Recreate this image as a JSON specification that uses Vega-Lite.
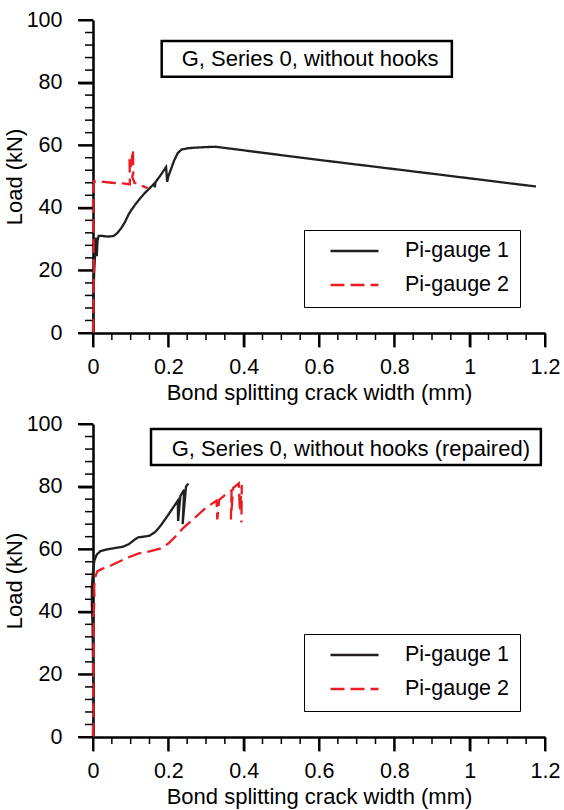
{
  "$schema": "https://vega.github.io/schema/vega-lite/v6.json",
  "padding": {"left": 3, "top": 9, "right": 5, "bottom": 3},
  "spacing": 9,
  "config": {
    "view": {"stroke": null},
    "font": "Liberation Sans",
    "axis": {
      "grid": false,
      "domainColor": "black",
      "domainWidth": 2.5,
      "tickColor": "black",
      "tickWidth": 2,
      "labelFont": "Liberation Sans",
      "labelFontSize": 21.5,
      "labelColor": "black",
      "labelOverlap": false,
      "labelFlush": false,
      "titleFont": "Liberation Sans",
      "titleFontSize": 22,
      "titleFontWeight": "normal",
      "titleColor": "black"
    }
  },
  "resolve": {"legend": {"color": "independent", "strokeDash": "independent"}},
  "datasets": {
    "xmajor": [{"v": 0}, {"v": 0.2}, {"v": 0.4}, {"v": 0.6}, {"v": 0.8}, {"v": 1}, {"v": 1.2}],
    "xminor": [{"v": 0.05}, {"v": 0.1}, {"v": 0.15}, {"v": 0.25}, {"v": 0.3}, {"v": 0.35}, {"v": 0.45}, {"v": 0.5}, {"v": 0.55}, {"v": 0.65}, {"v": 0.7}, {"v": 0.75}, {"v": 0.85}, {"v": 0.9}, {"v": 0.95}, {"v": 1.05}, {"v": 1.1}, {"v": 1.15}],
    "ymajor": [{"v": 0}, {"v": 20}, {"v": 40}, {"v": 60}, {"v": 80}, {"v": 100}],
    "yminor": [{"v": 4}, {"v": 8}, {"v": 12}, {"v": 16}, {"v": 24}, {"v": 28}, {"v": 32}, {"v": 36}, {"v": 44}, {"v": 48}, {"v": 52}, {"v": 56}, {"v": 64}, {"v": 68}, {"v": 72}, {"v": 76}, {"v": 84}, {"v": 88}, {"v": 92}, {"v": 96}],
    "curves": [
      {"panel": "top", "series": "Pi-gauge 1", "i": 1, "x": 0, "y": 0},
      {"panel": "top", "series": "Pi-gauge 1", "i": 2, "x": 0.001, "y": 8},
      {"panel": "top", "series": "Pi-gauge 1", "i": 3, "x": 0.002, "y": 15},
      {"panel": "top", "series": "Pi-gauge 1", "i": 4, "x": 0.003, "y": 19},
      {"panel": "top", "series": "Pi-gauge 1", "i": 5, "x": 0.005, "y": 24},
      {"panel": "top", "series": "Pi-gauge 1", "i": 6, "x": 0.007, "y": 28},
      {"panel": "top", "series": "Pi-gauge 1", "i": 7, "x": 0.008, "y": 30.5},
      {"panel": "top", "series": "Pi-gauge 1", "i": 8, "x": 0.01, "y": 24.5},
      {"panel": "top", "series": "Pi-gauge 1", "i": 9, "x": 0.012, "y": 29.5},
      {"panel": "top", "series": "Pi-gauge 1", "i": 10, "x": 0.015, "y": 31},
      {"panel": "top", "series": "Pi-gauge 1", "i": 11, "x": 0.025, "y": 31},
      {"panel": "top", "series": "Pi-gauge 1", "i": 12, "x": 0.04, "y": 30.8},
      {"panel": "top", "series": "Pi-gauge 1", "i": 13, "x": 0.055, "y": 31},
      {"panel": "top", "series": "Pi-gauge 1", "i": 14, "x": 0.065, "y": 32},
      {"panel": "top", "series": "Pi-gauge 1", "i": 15, "x": 0.075, "y": 33.5},
      {"panel": "top", "series": "Pi-gauge 1", "i": 16, "x": 0.085, "y": 35.5},
      {"panel": "top", "series": "Pi-gauge 1", "i": 17, "x": 0.095, "y": 38},
      {"panel": "top", "series": "Pi-gauge 1", "i": 18, "x": 0.103, "y": 39.5},
      {"panel": "top", "series": "Pi-gauge 1", "i": 19, "x": 0.115, "y": 41.5},
      {"panel": "top", "series": "Pi-gauge 1", "i": 20, "x": 0.125, "y": 43},
      {"panel": "top", "series": "Pi-gauge 1", "i": 21, "x": 0.14, "y": 45},
      {"panel": "top", "series": "Pi-gauge 1", "i": 22, "x": 0.155, "y": 46.8},
      {"panel": "top", "series": "Pi-gauge 1", "i": 23, "x": 0.163, "y": 47.8},
      {"panel": "top", "series": "Pi-gauge 1", "i": 24, "x": 0.164, "y": 46.5},
      {"panel": "top", "series": "Pi-gauge 1", "i": 25, "x": 0.166, "y": 48.2},
      {"panel": "top", "series": "Pi-gauge 1", "i": 26, "x": 0.18, "y": 50.5},
      {"panel": "top", "series": "Pi-gauge 1", "i": 27, "x": 0.194, "y": 53},
      {"panel": "top", "series": "Pi-gauge 1", "i": 28, "x": 0.197, "y": 48.3},
      {"panel": "top", "series": "Pi-gauge 1", "i": 29, "x": 0.2, "y": 50},
      {"panel": "top", "series": "Pi-gauge 1", "i": 30, "x": 0.206, "y": 52},
      {"panel": "top", "series": "Pi-gauge 1", "i": 31, "x": 0.215, "y": 55},
      {"panel": "top", "series": "Pi-gauge 1", "i": 32, "x": 0.225, "y": 57.5},
      {"panel": "top", "series": "Pi-gauge 1", "i": 33, "x": 0.235, "y": 58.6},
      {"panel": "top", "series": "Pi-gauge 1", "i": 34, "x": 0.25, "y": 59},
      {"panel": "top", "series": "Pi-gauge 1", "i": 35, "x": 0.27, "y": 59.2},
      {"panel": "top", "series": "Pi-gauge 1", "i": 36, "x": 0.3, "y": 59.4},
      {"panel": "top", "series": "Pi-gauge 1", "i": 37, "x": 0.325, "y": 59.5},
      {"panel": "top", "series": "Pi-gauge 1", "i": 38, "x": 0.6, "y": 55.3},
      {"panel": "top", "series": "Pi-gauge 1", "i": 39, "x": 0.9, "y": 50.9},
      {"panel": "top", "series": "Pi-gauge 1", "i": 40, "x": 1.176, "y": 46.8},
      {"panel": "top", "series": "Pi-gauge 2", "i": 1, "x": 0, "y": 0},
      {"panel": "top", "series": "Pi-gauge 2", "i": 2, "x": 0.001, "y": 10},
      {"panel": "top", "series": "Pi-gauge 2", "i": 3, "x": 0.002, "y": 20},
      {"panel": "top", "series": "Pi-gauge 2", "i": 4, "x": 0.001, "y": 30},
      {"panel": "top", "series": "Pi-gauge 2", "i": 5, "x": 0, "y": 40},
      {"panel": "top", "series": "Pi-gauge 2", "i": 6, "x": 0.001, "y": 48.4},
      {"panel": "top", "series": "Pi-gauge 2", "i": 7, "x": 0.02, "y": 48.4},
      {"panel": "top", "series": "Pi-gauge 2", "i": 8, "x": 0.05, "y": 48},
      {"panel": "top", "series": "Pi-gauge 2", "i": 9, "x": 0.08, "y": 47.8},
      {"panel": "top", "series": "Pi-gauge 2", "i": 10, "x": 0.098, "y": 47.5},
      {"panel": "top", "series": "Pi-gauge 2", "i": 11, "x": 0.097, "y": 55.5},
      {"panel": "top", "series": "Pi-gauge 2", "i": 12, "x": 0.1, "y": 53},
      {"panel": "top", "series": "Pi-gauge 2", "i": 13, "x": 0.106, "y": 58.5},
      {"panel": "top", "series": "Pi-gauge 2", "i": 14, "x": 0.107, "y": 51},
      {"panel": "top", "series": "Pi-gauge 2", "i": 15, "x": 0.104, "y": 50},
      {"panel": "top", "series": "Pi-gauge 2", "i": 16, "x": 0.11, "y": 48},
      {"panel": "top", "series": "Pi-gauge 2", "i": 17, "x": 0.12, "y": 47.5},
      {"panel": "top", "series": "Pi-gauge 2", "i": 18, "x": 0.13, "y": 47},
      {"panel": "top", "series": "Pi-gauge 2", "i": 19, "x": 0.145, "y": 46.3},
      {"panel": "bottom", "series": "Pi-gauge 1", "i": 1, "x": 0, "y": 0},
      {"panel": "bottom", "series": "Pi-gauge 1", "i": 2, "x": 0.001, "y": 12},
      {"panel": "bottom", "series": "Pi-gauge 1", "i": 3, "x": 0, "y": 25},
      {"panel": "bottom", "series": "Pi-gauge 1", "i": 4, "x": -0.001, "y": 35},
      {"panel": "bottom", "series": "Pi-gauge 1", "i": 5, "x": -0.003, "y": 42},
      {"panel": "bottom", "series": "Pi-gauge 1", "i": 6, "x": -0.003, "y": 48},
      {"panel": "bottom", "series": "Pi-gauge 1", "i": 7, "x": 0, "y": 53},
      {"panel": "bottom", "series": "Pi-gauge 1", "i": 8, "x": 0.004, "y": 56.5},
      {"panel": "bottom", "series": "Pi-gauge 1", "i": 9, "x": 0.01, "y": 58.3},
      {"panel": "bottom", "series": "Pi-gauge 1", "i": 10, "x": 0.02, "y": 59.4},
      {"panel": "bottom", "series": "Pi-gauge 1", "i": 11, "x": 0.04, "y": 60},
      {"panel": "bottom", "series": "Pi-gauge 1", "i": 12, "x": 0.06, "y": 60.4},
      {"panel": "bottom", "series": "Pi-gauge 1", "i": 13, "x": 0.08, "y": 60.8},
      {"panel": "bottom", "series": "Pi-gauge 1", "i": 14, "x": 0.095, "y": 61.6},
      {"panel": "bottom", "series": "Pi-gauge 1", "i": 15, "x": 0.11, "y": 63},
      {"panel": "bottom", "series": "Pi-gauge 1", "i": 16, "x": 0.12, "y": 63.8},
      {"panel": "bottom", "series": "Pi-gauge 1", "i": 17, "x": 0.135, "y": 64},
      {"panel": "bottom", "series": "Pi-gauge 1", "i": 18, "x": 0.15, "y": 64.3},
      {"panel": "bottom", "series": "Pi-gauge 1", "i": 19, "x": 0.165, "y": 65.5},
      {"panel": "bottom", "series": "Pi-gauge 1", "i": 20, "x": 0.18, "y": 67.6},
      {"panel": "bottom", "series": "Pi-gauge 1", "i": 21, "x": 0.2, "y": 71},
      {"panel": "bottom", "series": "Pi-gauge 1", "i": 22, "x": 0.225, "y": 75.5},
      {"panel": "bottom", "series": "Pi-gauge 1", "i": 23, "x": 0.226, "y": 69},
      {"panel": "bottom", "series": "Pi-gauge 1", "i": 24, "x": 0.232, "y": 77},
      {"panel": "bottom", "series": "Pi-gauge 1", "i": 25, "x": 0.242, "y": 79},
      {"panel": "bottom", "series": "Pi-gauge 1", "i": 26, "x": 0.238, "y": 68},
      {"panel": "bottom", "series": "Pi-gauge 1", "i": 27, "x": 0.247, "y": 80},
      {"panel": "bottom", "series": "Pi-gauge 1", "i": 28, "x": 0.253, "y": 81},
      {"panel": "bottom", "series": "Pi-gauge 2", "i": 1, "x": 0, "y": 0},
      {"panel": "bottom", "series": "Pi-gauge 2", "i": 2, "x": 0.001, "y": 10},
      {"panel": "bottom", "series": "Pi-gauge 2", "i": 3, "x": 0, "y": 20},
      {"panel": "bottom", "series": "Pi-gauge 2", "i": 4, "x": 0.002, "y": 30},
      {"panel": "bottom", "series": "Pi-gauge 2", "i": 5, "x": 0.001, "y": 38},
      {"panel": "bottom", "series": "Pi-gauge 2", "i": 6, "x": 0.004, "y": 44},
      {"panel": "bottom", "series": "Pi-gauge 2", "i": 7, "x": 0.003, "y": 48},
      {"panel": "bottom", "series": "Pi-gauge 2", "i": 8, "x": 0.007, "y": 51.5},
      {"panel": "bottom", "series": "Pi-gauge 2", "i": 9, "x": 0.012, "y": 53},
      {"panel": "bottom", "series": "Pi-gauge 2", "i": 10, "x": 0.025, "y": 53.8},
      {"panel": "bottom", "series": "Pi-gauge 2", "i": 11, "x": 0.04, "y": 54.3},
      {"panel": "bottom", "series": "Pi-gauge 2", "i": 12, "x": 0.06, "y": 55.5},
      {"panel": "bottom", "series": "Pi-gauge 2", "i": 13, "x": 0.09, "y": 57.2},
      {"panel": "bottom", "series": "Pi-gauge 2", "i": 14, "x": 0.12, "y": 58.6},
      {"panel": "bottom", "series": "Pi-gauge 2", "i": 15, "x": 0.15, "y": 59.3},
      {"panel": "bottom", "series": "Pi-gauge 2", "i": 16, "x": 0.178, "y": 60.2},
      {"panel": "bottom", "series": "Pi-gauge 2", "i": 17, "x": 0.2, "y": 61.8},
      {"panel": "bottom", "series": "Pi-gauge 2", "i": 18, "x": 0.22, "y": 64.2},
      {"panel": "bottom", "series": "Pi-gauge 2", "i": 19, "x": 0.24, "y": 66.8},
      {"panel": "bottom", "series": "Pi-gauge 2", "i": 20, "x": 0.27, "y": 70},
      {"panel": "bottom", "series": "Pi-gauge 2", "i": 21, "x": 0.3, "y": 73.3},
      {"panel": "bottom", "series": "Pi-gauge 2", "i": 22, "x": 0.328, "y": 75.5},
      {"panel": "bottom", "series": "Pi-gauge 2", "i": 23, "x": 0.33, "y": 69.5},
      {"panel": "bottom", "series": "Pi-gauge 2", "i": 24, "x": 0.335, "y": 75.8},
      {"panel": "bottom", "series": "Pi-gauge 2", "i": 25, "x": 0.355, "y": 77.8},
      {"panel": "bottom", "series": "Pi-gauge 2", "i": 26, "x": 0.368, "y": 78.8},
      {"panel": "bottom", "series": "Pi-gauge 2", "i": 27, "x": 0.366, "y": 69.5},
      {"panel": "bottom", "series": "Pi-gauge 2", "i": 28, "x": 0.372, "y": 79.5},
      {"panel": "bottom", "series": "Pi-gauge 2", "i": 29, "x": 0.387, "y": 81},
      {"panel": "bottom", "series": "Pi-gauge 2", "i": 30, "x": 0.39, "y": 72},
      {"panel": "bottom", "series": "Pi-gauge 2", "i": 31, "x": 0.395, "y": 80.5},
      {"panel": "bottom", "series": "Pi-gauge 2", "i": 32, "x": 0.394, "y": 68.5}
    ]
  },
  "vconcat": [
    {
      "width": 452,
      "height": 313,
      "layer": [
        {
          "data": {"name": "curves"},
          "transform": [{"filter": "datum.panel === 'top'"}],
          "mark": {"type": "line", "strokeWidth": 2.3},
          "encoding": {
            "x": {
              "field": "x", "type": "quantitative",
              "title": "Bond splitting crack width (mm)",
              "scale": {"domain": [0, 1.2], "nice": false, "zero": false},
              "axis": {"orient": "bottom", "values": [0, 0.2, 0.4, 0.6, 0.8, 1, 1.2], "format": "~g", "tickSize": 14, "labelPadding": 9, "titlePadding": 5}
            },
            "y": {
              "field": "y", "type": "quantitative",
              "title": "Load (kN)",
              "scale": {"domain": [0, 100], "nice": false},
              "axis": {"orient": "left", "values": [0, 20, 40, 60, 80, 100], "tickSize": 15, "labelPadding": 16, "titlePadding": 0}
            },
            "order": {"field": "i", "type": "quantitative"},
            "color": {
              "field": "series", "type": "nominal",
              "scale": {"domain": ["Pi-gauge 1", "Pi-gauge 2"], "range": ["#231f20", "#ed1c24"]},
              "legend": {"orient": "none", "legendX": 211, "legendY": 210, "title": null, "strokeColor": "black", "padding": 11, "symbolType": "stroke", "symbolSize": 2304, "symbolStrokeWidth": 2.5, "symbolOffset": 14, "labelOffset": 25, "labelFontSize": 21.5, "labelFont": "Liberation Sans", "labelColor": "black", "rowPadding": 12, "clipHeight": 20, "labelExpr": "datum.label + '\u00a0\u00a0\u00a0'"}
            },
            "strokeDash": {
              "field": "series", "type": "nominal",
              "scale": {"domain": ["Pi-gauge 1", "Pi-gauge 2"], "range": [[1, 0], [14, 6]]},
              "legend": {"orient": "none", "legendX": 211, "legendY": 210, "title": null, "strokeColor": "black", "padding": 11, "symbolType": "stroke", "symbolSize": 2304, "symbolStrokeWidth": 2.5, "symbolOffset": 14, "labelOffset": 25, "labelFontSize": 21.5, "labelFont": "Liberation Sans", "labelColor": "black", "rowPadding": 12, "clipHeight": 20, "labelExpr": "datum.label + '\u00a0\u00a0\u00a0'"}
            }
          }
        },
        {
          "data": {"name": "xmajor"},
          "mark": {"type": "rule", "color": "black", "strokeWidth": 2},
          "encoding": {"x": {"field": "v", "type": "quantitative", "title": "Bond splitting crack width (mm)"}, "y": {"datum": 0, "type": "quantitative"}, "y2": {"datum": -4.47}}
        },
        {
          "data": {"name": "xminor"},
          "mark": {"type": "rule", "color": "black", "strokeWidth": 1.5},
          "encoding": {"x": {"field": "v", "type": "quantitative", "title": "Bond splitting crack width (mm)"}, "y": {"datum": 0, "type": "quantitative"}, "y2": {"datum": -2.24}}
        },
        {
          "data": {"name": "ymajor"},
          "mark": {"type": "rule", "color": "black", "strokeWidth": 2},
          "encoding": {"y": {"field": "v", "type": "quantitative", "title": "Load (kN)"}, "x": {"datum": 0, "type": "quantitative"}, "x2": {"datum": -0.0398}}
        },
        {
          "data": {"name": "yminor"},
          "mark": {"type": "rule", "color": "black", "strokeWidth": 1.5},
          "encoding": {"y": {"field": "v", "type": "quantitative", "title": "Load (kN)"}, "x": {"datum": 0, "type": "quantitative"}, "x2": {"datum": -0.0212}}
        },
        {
          "data": {"values": [{}]},
          "mark": {"type": "rect", "fill": "white", "stroke": "black", "strokeWidth": 2.5},
          "encoding": {
            "x": {"datum": 0.1824, "type": "quantitative"},
            "x2": {"datum": 0.9527},
            "y": {"datum": 93.3, "type": "quantitative"},
            "y2": {"datum": 81.9}
          }
        },
        {
          "data": {"values": [{}]},
          "mark": {"type": "text", "align": "left", "baseline": "alphabetic", "fontSize": 22, "font": "Liberation Sans", "color": "black"},
          "encoding": {
            "x": {"datum": 0.2355, "type": "quantitative"},
            "y": {"datum": 85.3, "type": "quantitative"},
            "text": {"value": "G, Series 0, without hooks"}
          }
        }
      ]
    },
    {
      "width": 452,
      "height": 313,
      "layer": [
        {
          "data": {"name": "curves"},
          "transform": [{"filter": "datum.panel === 'bottom'"}],
          "mark": {"type": "line", "strokeWidth": 2.3},
          "encoding": {
            "x": {
              "field": "x", "type": "quantitative",
              "title": "Bond splitting crack width (mm)",
              "scale": {"domain": [0, 1.2], "nice": false, "zero": false},
              "axis": {"orient": "bottom", "values": [0, 0.2, 0.4, 0.6, 0.8, 1, 1.2], "format": "~g", "tickSize": 14, "labelPadding": 9, "titlePadding": 5}
            },
            "y": {
              "field": "y", "type": "quantitative",
              "title": "Load (kN)",
              "scale": {"domain": [0, 100], "nice": false},
              "axis": {"orient": "left", "values": [0, 20, 40, 60, 80, 100], "tickSize": 15, "labelPadding": 16, "titlePadding": 0}
            },
            "order": {"field": "i", "type": "quantitative"},
            "color": {
              "field": "series", "type": "nominal",
              "scale": {"domain": ["Pi-gauge 1", "Pi-gauge 2"], "range": ["#231f20", "#ed1c24"]},
              "legend": {"orient": "none", "legendX": 211, "legendY": 210, "title": null, "strokeColor": "black", "padding": 11, "symbolType": "stroke", "symbolSize": 2304, "symbolStrokeWidth": 2.5, "symbolOffset": 14, "labelOffset": 25, "labelFontSize": 21.5, "labelFont": "Liberation Sans", "labelColor": "black", "rowPadding": 12, "clipHeight": 20, "labelExpr": "datum.label + '\u00a0\u00a0\u00a0'"}
            },
            "strokeDash": {
              "field": "series", "type": "nominal",
              "scale": {"domain": ["Pi-gauge 1", "Pi-gauge 2"], "range": [[1, 0], [14, 6]]},
              "legend": {"orient": "none", "legendX": 211, "legendY": 210, "title": null, "strokeColor": "black", "padding": 11, "symbolType": "stroke", "symbolSize": 2304, "symbolStrokeWidth": 2.5, "symbolOffset": 14, "labelOffset": 25, "labelFontSize": 21.5, "labelFont": "Liberation Sans", "labelColor": "black", "rowPadding": 12, "clipHeight": 20, "labelExpr": "datum.label + '\u00a0\u00a0\u00a0'"}
            }
          }
        },
        {
          "data": {"name": "xmajor"},
          "mark": {"type": "rule", "color": "black", "strokeWidth": 2},
          "encoding": {"x": {"field": "v", "type": "quantitative", "title": "Bond splitting crack width (mm)"}, "y": {"datum": 0, "type": "quantitative"}, "y2": {"datum": -4.47}}
        },
        {
          "data": {"name": "xminor"},
          "mark": {"type": "rule", "color": "black", "strokeWidth": 1.5},
          "encoding": {"x": {"field": "v", "type": "quantitative", "title": "Bond splitting crack width (mm)"}, "y": {"datum": 0, "type": "quantitative"}, "y2": {"datum": -2.24}}
        },
        {
          "data": {"name": "ymajor"},
          "mark": {"type": "rule", "color": "black", "strokeWidth": 2},
          "encoding": {"y": {"field": "v", "type": "quantitative", "title": "Load (kN)"}, "x": {"datum": 0, "type": "quantitative"}, "x2": {"datum": -0.0398}}
        },
        {
          "data": {"name": "yminor"},
          "mark": {"type": "rule", "color": "black", "strokeWidth": 1.5},
          "encoding": {"y": {"field": "v", "type": "quantitative", "title": "Load (kN)"}, "x": {"datum": 0, "type": "quantitative"}, "x2": {"datum": -0.0212}}
        },
        {
          "data": {"values": [{}]},
          "mark": {"type": "rect", "fill": "white", "stroke": "black", "strokeWidth": 2.5},
          "encoding": {
            "x": {"datum": 0.154, "type": "quantitative"},
            "x2": {"datum": 1.189},
            "y": {"datum": 98.4, "type": "quantitative"},
            "y2": {"datum": 86.9}
          }
        },
        {
          "data": {"values": [{}]},
          "mark": {"type": "text", "align": "left", "baseline": "alphabetic", "fontSize": 22, "font": "Liberation Sans", "color": "black"},
          "encoding": {
            "x": {"datum": 0.209, "type": "quantitative"},
            "y": {"datum": 89.8, "type": "quantitative"},
            "text": {"value": "G, Series 0, without hooks (repaired)"}
          }
        }
      ]
    }
  ]
}
